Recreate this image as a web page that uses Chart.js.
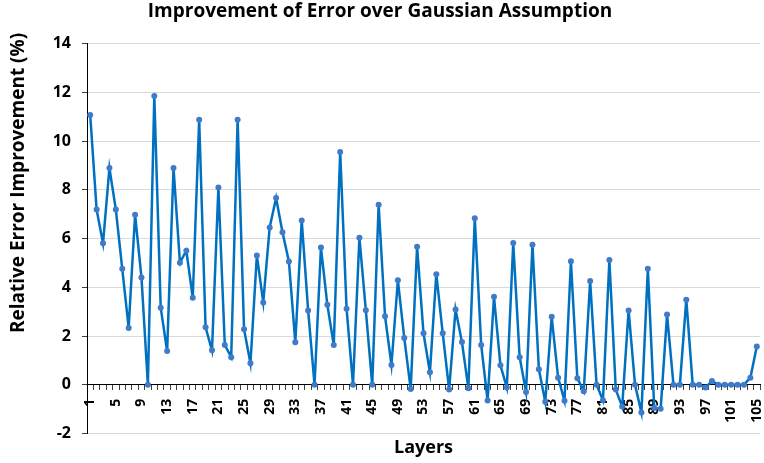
<!DOCTYPE html>
<html>
<head>
<meta charset="utf-8">
<script src="https://cdn.jsdelivr.net/npm/chart.js@4.4.1/dist/chart.umd.min.js"></script>
<style>
  html, body { margin: 0; padding: 0; background: #fff; }
  #wrap { width: 764px; height: 463px; }
</style>
</head>
<body>
<div id="wrap"><canvas id="errChart" width="764" height="463"></canvas></div>
<script>
// Layers 1..105
const layers = [
    '1', '2', '3', '4', '5', '6', '7', '8', '9', '10',
    '11', '12', '13', '14', '15', '16', '17', '18', '19', '20',
    '21', '22', '23', '24', '25', '26', '27', '28', '29', '30',
    '31', '32', '33', '34', '35', '36', '37', '38', '39', '40',
    '41', '42', '43', '44', '45', '46', '47', '48', '49', '50',
    '51', '52', '53', '54', '55', '56', '57', '58', '59', '60',
    '61', '62', '63', '64', '65', '66', '67', '68', '69', '70',
    '71', '72', '73', '74', '75', '76', '77', '78', '79', '80',
    '81', '82', '83', '84', '85', '86', '87', '88', '89', '90',
    '91', '92', '93', '94', '95', '96', '97', '98', '99', '100',
    '101', '102', '103', '104', '105'
];

// Relative error improvement (%) per layer
const improvement = [
    11.08, 7.19, 5.81, 8.90, 7.19, 4.76, 2.33, 6.98, 4.40, 0.00,
    11.86, 3.16, 1.38, 8.90, 5.01, 5.50, 3.57, 10.88, 2.36, 1.41,
    8.10, 1.63, 1.13, 10.88, 2.28, 0.88, 5.31, 3.38, 6.46, 7.67,
    6.26, 5.06, 1.74, 6.74, 3.05, 0.00, 5.63, 3.28, 1.63, 9.56,
    3.12, 0.00, 6.04, 3.06, 0.00, 7.39, 2.81, 0.81, 4.29, 1.92,
    -0.18, 5.67, 2.11, 0.51, 4.54, 2.11, -0.20, 3.09, 1.75, -0.15,
    6.84, 1.63, -0.65, 3.61, 0.80, -0.12, 5.82, 1.13, -0.30, 5.75,
    0.63, -0.70, 2.79, 0.29, -0.66, 5.07, 0.27, -0.27, 4.26, 0.00,
    -0.64, 5.12, -0.20, -0.90, 3.05, 0.00, -1.14, 4.76, -0.96, -0.99,
    2.88, 0.00, 0.00, 3.49, 0.00, 0.00, -0.12, 0.15, 0.00, 0.00,
    0.00, 0.00, 0.00, 0.29, 1.57
];

// Only every 4th layer is labelled on the axis
const xTickLabels = ['1', '5', '9', '13', '17', '21', '25', '29', '33', '37', '41', '45', '49',
    '53', '57', '61', '65', '69', '73', '77', '81', '85', '89', '93', '97', '101', '105'];
const yTicks = [-2, 0, 2, 4, 6, 8, 10, 12, 14];

const chartTitle = 'Improvement of Error over Gaussian Assumption';
const yTitle = 'Relative Error Improvement (%)';
const xTitle = 'Layers';

const FONT = '"Open Sans"';

// y axis title sits a bit above the plot's centre, like the original
const yTitlePlugin = {
    id: 'yTitle',
    afterDraw(chart) {
        const ctx = chart.ctx;
        ctx.save();
        ctx.translate(19, 183);
        ctx.rotate(-Math.PI / 2);
        ctx.font = 'bold 19px ' + FONT;
        ctx.fillStyle = '#000';
        ctx.textAlign = 'center';
        ctx.textBaseline = 'middle';
        ctx.fillText(yTitle, 0, 0);
        ctx.restore();
    }
};

function createChart() {
    const ctx = document.getElementById('errChart').getContext('2d');
    return new Chart(ctx, {
        type: 'line',
        data: {
            labels: layers,
            datasets: [{
                label: 'Improvement',
                data: improvement,
                borderColor: '#0070C0',
                borderWidth: 2.5,
                tension: 0,
                pointRadius: 3,
                pointBackgroundColor: '#3f7bc9',
                pointBorderColor: '#3f7bc9',
                pointBorderWidth: 0
            }]
        },
        options: {
            responsive: false,
            animation: false,
            devicePixelRatio: 1,
            layout: { padding: { left: 0, right: 4, top: 0, bottom: 0 } },
            plugins: {
                legend: { display: false },
                tooltip: { enabled: false },
                title: {
                    display: true,
                    text: chartTitle,
                    color: '#000',
                    font: { family: FONT, size: 19, weight: 'bold' },
                    padding: { top: 0, bottom: 21 }
                },
                subtitle: {
                    display: true,
                    position: 'bottom',
                    fullSize: false,
                    text: xTitle,
                    color: '#000',
                    font: { family: FONT, size: 18, weight: 'bold' },
                    padding: { top: 4, bottom: 4 }
                }
            },
            scales: {
                x: {
                    type: 'category',
                    offset: true,
                    position: { y: 0 },
                    border: { display: true, color: '#000', width: 1 },
                    grid: {
                        drawOnChartArea: false,
                        drawTicks: true,
                        tickLength: 5,
                        tickColor: '#404040',
                        offset: true
                    },
                    ticks: {
                        autoSkip: false,
                        maxRotation: 90,
                        minRotation: 90,
                        padding: 9,
                        color: '#000',
                        font: { family: FONT, size: 14, weight: 'bold' },
                        callback: function (value, index) {
                            const lbl = layers[index];
                            return xTickLabels.includes(lbl) ? lbl : '';
                        }
                    },
                    afterFit: function (scale) {
                        scale.paddingLeft = 0;
                        scale.paddingRight = 0;
                    }
                },
                y: {
                    min: yTicks[0],
                    max: yTicks[yTicks.length - 1],
                    border: { display: true, color: '#000', width: 1 },
                    grid: {
                        color: '#d9d9d9',
                        tickColor: '#404040',
                        tickLength: 5
                    },
                    ticks: {
                        stepSize: 2,
                        padding: 11,
                        color: '#000',
                        font: { family: FONT, size: 16, weight: 'bold' }
                    },
                    afterFit: function (scale) {
                        scale.width = 87;
                    }
                }
            }
        },
        plugins: [yTitlePlugin]
    });
}

let chart;
document.addEventListener('DOMContentLoaded', () => {
    chart = createChart();
});
</script>
</body>
</html>
